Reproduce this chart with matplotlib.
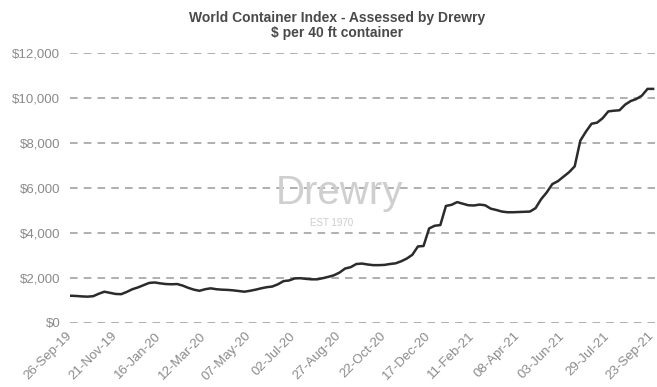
import pandas as pd
import matplotlib
matplotlib.use("Agg")
import matplotlib.pyplot as plt
import matplotlib.dates as mdates
import matplotlib.transforms as mtransforms
from matplotlib.ticker import FuncFormatter

# weekly WCI composite, $ per 40ft
start_date = "2019-09-26"
wci = [
    1210, 1200, 1180, 1170, 1190, 1300, 1390, 1340, 1290, 1280,
    1380, 1500, 1580, 1680, 1780, 1800, 1760, 1730, 1720, 1730,
    1660, 1560, 1480, 1430, 1500, 1540, 1500, 1480, 1470, 1450,
    1420, 1390, 1430, 1480, 1540, 1590, 1620, 1720, 1860, 1890,
    1980, 1990, 1960, 1940, 1940, 1990, 2050, 2120, 2240, 2420,
    2480, 2620, 2640, 2600, 2570, 2570, 2580, 2620, 2650, 2740,
    2860, 3030, 3400, 3420, 4200, 4320, 4350, 5200, 5250, 5370,
    5300, 5230, 5220, 5260, 5230, 5080, 5020, 4950, 4920, 4920,
    4930, 4940, 4950, 5100, 5500, 5800, 6170, 6300, 6500, 6700,
    6960, 8100, 8500, 8850, 8900, 9100, 9400, 9430, 9450, 9700,
    9860, 9950, 10100, 10400, 10400,
]
y_ticks = [0, 2000, 4000, 6000, 8000, 10000, 12000]
title = "World Container Index - Assessed by Drewry\n$ per 40 ft container"

dates = pd.date_range(start_date, periods=len(wci), freq="7D")
df = pd.DataFrame({"date": dates, "wci": wci})

plt.rcParams["font.family"] = ["Liberation Sans", "DejaVu Sans"]

fig = plt.figure(figsize=(6.57, 3.87), dpi=100)
ax = fig.add_axes([0.1065, 0.1654, 0.890, 0.698])

ax.plot(df["date"], df["wci"], color="#2b2b2b", linewidth=1.8, zorder=3)

ax.set_ylim(0, 12000)
ax.set_yticks(y_ticks)
ax.yaxis.set_major_formatter(FuncFormatter(lambda v, p: f"${v:,.0f}"))
ax.set_xlim(dates[0] - pd.Timedelta(days=1), dates[-1] + pd.Timedelta(days=2))
ax.set_xticks(dates[::8])
ax.xaxis.set_major_formatter(mdates.DateFormatter("%d-%b-%y"))

ax.tick_params(axis="both", length=0, colors="#8a8a8a", labelsize=9.5)
ax.tick_params(axis="y", pad=7)
ax.tick_params(axis="x", pad=5)

shift = mtransforms.ScaledTranslation(-5 / 100, 0, fig.dpi_scale_trans)
for lbl in ax.get_xticklabels():
    lbl.set_rotation(45)
    lbl.set_ha("right")
    lbl.set_rotation_mode("anchor")
    lbl.set_transform(lbl.get_transform() + shift)

for s in ax.spines.values():
    s.set_visible(False)
ax.grid(axis="y", color="#9a9a9a", linestyle=(0, (5, 4)), linewidth=1.1)
ax.set_axisbelow(True)

# watermark
ax.text(0.461, 0.48, "Drewry", transform=ax.transAxes, fontsize=29,
        color="#cfcfcf", ha="center", va="center", zorder=1)
ax.text(0.448, 0.37, "EST 1970", transform=ax.transAxes, fontsize=7,
        color="#cccccc", ha="center", va="center", zorder=1)

fig.text(337 / 657, 0.972, title, ha="center", va="top", fontsize=10,
         fontweight="bold", color="#4a4a4a", linespacing=1.15)

fig.savefig("out.png", dpi=100, facecolor="white")
